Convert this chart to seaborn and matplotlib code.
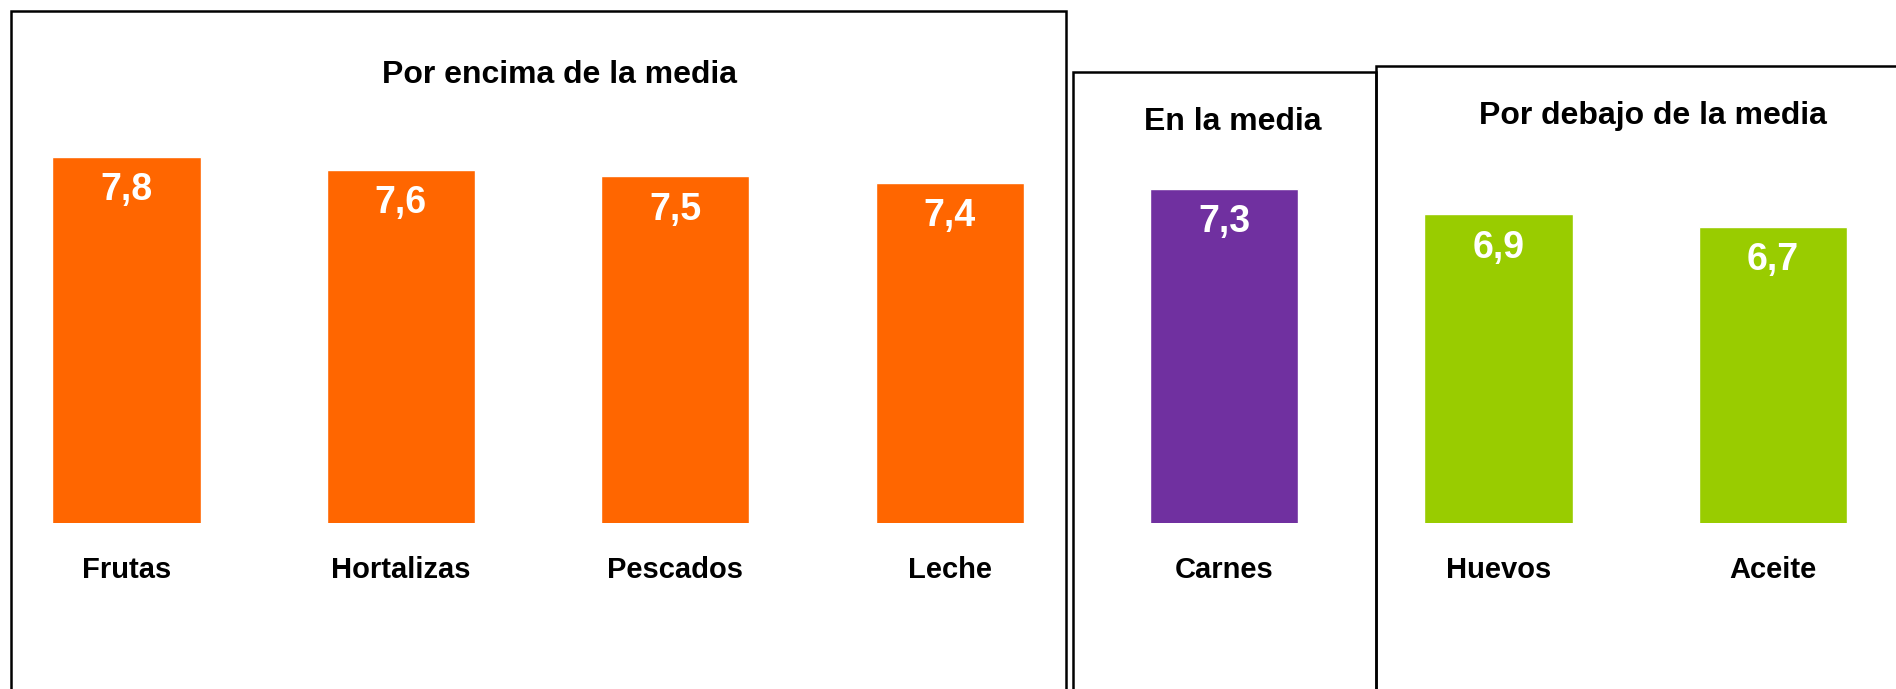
import matplotlib
matplotlib.use("Agg")
import matplotlib.pyplot as plt
from matplotlib.patches import Rectangle
import seaborn as sns

# datos
alimentos = ["Frutas", "Hortalizas", "Pescados", "Leche", "Carnes", "Huevos", "Aceite"]
puntuacion = [7.8, 7.6, 7.5, 7.4, 7.3, 6.9, 6.7]
grupo = ["encima", "encima", "encima", "encima", "media", "debajo", "debajo"]
titulos = ["Por encima de la media", "En la media", "Por debajo de la media"]
colores_grupo = {"encima": "#FF6600", "media": "#7030A0", "debajo": "#99CC00"}

sns.set_style("white")
plt.rcParams["font.family"] = ["Liberation Sans", "DejaVu Sans"]

W, H = 1896, 689
fig = plt.figure(figsize=(W / 100, H / 100), dpi=100)
ax = fig.add_axes([0, 166 / H, 1, 523 / H])

paleta = [colores_grupo[g] for g in grupo]
sns.barplot(x=alimentos, y=puntuacion, hue=alimentos, palette=paleta,
            legend=False, width=0.54, saturation=1, ax=ax)

ax.set_xlim(-0.461, 6.449)
ax.set_ylim(2.05, 10.27)
ax.set_yticks([])
ax.set_xlabel("")
ax.set_ylabel("")
sns.despine(ax=ax, left=True, bottom=True)
ax.tick_params(axis="x", length=0, pad=24, labelcolor="black")
for lab in ax.get_xticklabels():
    lab.set_fontsize(21)
    lab.set_fontweight("bold")

# etiquetas de valor dentro de las barras
for i, v in enumerate(puntuacion):
    ax.annotate(f"{v:.1f}".replace(".", ","), xy=(i, v), xytext=(0, -11),
                textcoords="offset points", ha="center", va="top",
                color="white", fontsize=27, fontweight="bold")

# recuadros de los grupos (pixeles)
def caja(x0, y0, x1, y1):
    fig.patches.append(Rectangle((x0 / W, 1 - y1 / H), (x1 - x0) / W, (y1 - y0) / H,
                                 transform=fig.transFigure, fill=False,
                                 edgecolor="black", linewidth=1.8, clip_on=False))

caja(11, 11, 1066, 760)
caja(1073, 72, 1376, 760)
caja(1376, 66, 1990, 760)

for t, (cx, cy) in zip(titulos, [(559, 75), (1233, 122), (1653, 116)]):
    fig.text(cx / W, 1 - cy / H, t, ha="center", va="center",
             fontsize=23, fontweight="bold", color="black")

fig.savefig("out.png", dpi=100)
